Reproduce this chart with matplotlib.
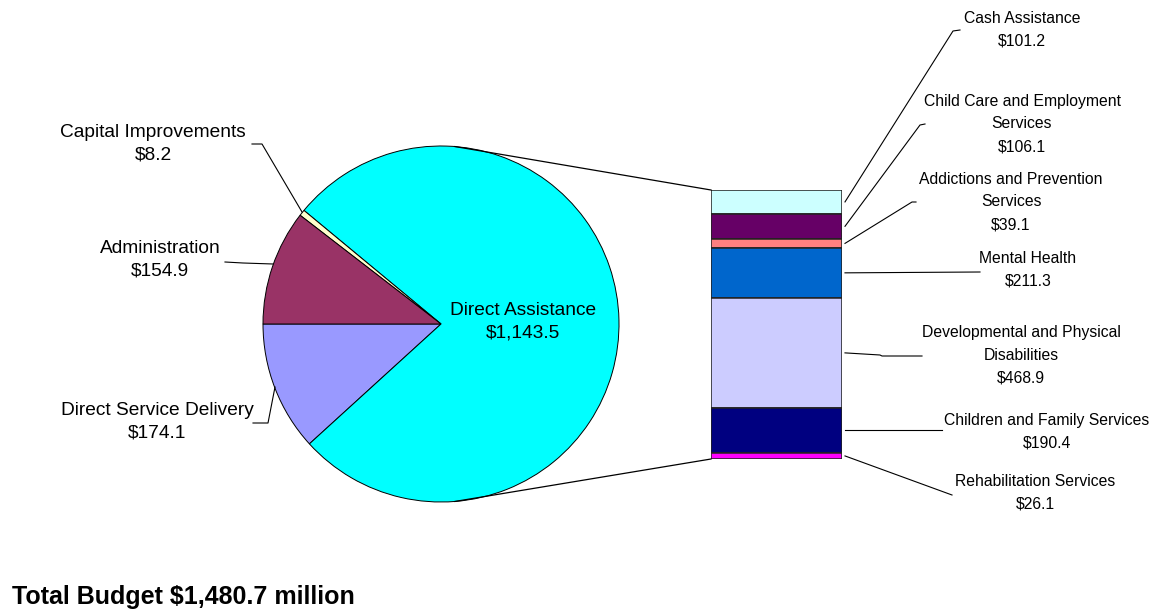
import numpy as np
import matplotlib.pyplot as plt

plt.rcParams['font.family'] = ['Liberation Sans', 'DejaVu Sans']
plt.rcParams['text.parse_math'] = False

# Dados do grafico de pizza (milhoes de dolares)
pizzaNomes = ['Direct Service Delivery', 'Direct Assistance', 'Capital Improvements', 'Administration']
pizzaValores = [174.1, 1143.5, 8.2, 154.9]
pizzaCores = ['#9999FF', '#00FFFF', '#FFFFCC', '#993366']

# Detalhamento de Direct Assistance (de cima para baixo)
barraNomes = ['Cash Assistance', 'Child Care and Employment\nServices', 'Addictions and Prevention\nServices',
              'Mental Health', 'Developmental and Physical\nDisabilities', 'Children and Family Services',
              'Rehabilitation Services']
barraValores = [101.2, 106.1, 39.1, 211.3, 468.9, 190.4, 26.1]
barraCores = ['#CCFFFF', '#660066', '#FF8080', '#0066CC', '#CCCCFF', '#000080', '#FF00FF']

totalBudget = 1480.7

W, H = 1159, 611
fig = plt.figure(figsize=(W / 100, H / 100), dpi=100)


def caixa(x0, y0, w, h):
    # converte caixa em pixels (origem topo-esquerda) para fracao da figura
    return [x0 / W, 1 - (y0 + h) / H, w / W, h / H]


# Pizza
cx, cy, r = 441, 324, 178
axPizza = fig.add_axes(caixa(cx - r, cy - r, 2 * r, 2 * r))
axPizza.pie(pizzaValores, colors=pizzaCores, startangle=180, counterclock=True, radius=1,
            wedgeprops={'edgecolor': 'black', 'linewidth': 0.7})
axPizza.set_xlim(-1, 1)
axPizza.set_ylim(-1, 1)
axPizza.set_aspect('auto')
axPizza.axis('off')

# Barra empilhada
bx, by, bw, bh = 711, 190, 131, 269
axBarra = fig.add_axes(caixa(bx, by, bw, bh))
base = np.concatenate([[0], np.cumsum(barraValores)[:-1]])
axBarra.bar(0, barraValores, bottom=base, width=1, color=barraCores, edgecolor='#222222', linewidth=1.1)
axBarra.set_xlim(-0.5, 0.5)
axBarra.set_ylim(sum(barraValores), 0)
axBarra.axis('off')

# Eixo de anotacoes em pixels
ax = fig.add_axes([0, 0, 1, 1], zorder=5)
ax.set_xlim(0, W)
ax.set_ylim(H, 0)
ax.axis('off')

# linhas ligando a pizza a barra
ang = np.radians(85.5)
ax.plot([cx + r * np.cos(ang), bx], [cy - r * np.sin(ang), by], color='black', lw=0.9)
ax.plot([cx + r * np.cos(ang), bx], [cy + r * np.sin(ang), by + bh], color='black', lw=0.9)

# rotulos da pizza
fontePizza = 13.8
pizzaTextos = {
    'Capital Improvements': ((153, 144), [(252, 144), (262, 144), (302, 212)]),
    'Administration': ((160, 260), [(225, 262), (243, 263), (273, 264)]),
    'Direct Service Delivery': ((157, 422), [(253, 423), (268, 423), (275, 387)]),
    'Direct Assistance': ((523, 322), None),
}
for nome, valor in zip(pizzaNomes, pizzaValores):
    (tx, ty), linha = pizzaTextos[nome]
    ax.text(tx, ty, f"{nome}\n${valor:,.1f}", ha='center', va='center', fontsize=fontePizza,
            linespacing=1.45)
    if linha:
        xs, ys = zip(*linha)
        ax.plot(xs, ys, color='black', lw=0.8)

# rotulos da barra
meio = by + (base + np.array(barraValores) / 2) / sum(barraValores) * bh
barraTextos = [(1022, 30), (1022, 124), (1011, 202), (1028, 270), (1021, 355), (1047, 432), (1035, 493)]
barraLinhas = [[(953, 31), (960, 30)], [(920, 125), (925, 124)], [(912, 202), (916, 202)],
               [(980, 272)], [(880, 355), (882, 356), (922, 356)], [(942, meio[5])], [(952, 495)]]
for nome, valor, (tx, ty), m, linha in zip(barraNomes, barraValores, barraTextos, meio, barraLinhas):
    ax.text(tx, ty, f"{nome}\n${valor:,.1f}", ha='center', va='center', fontsize=11.3, linespacing=1.65)
    pts = [(bx + bw + 3, m)] + linha
    xs, ys = zip(*pts)
    ax.plot(xs, ys, color='black', lw=0.8)

ax.text(12, 597, f"Total Budget ${totalBudget:,.1f} million", ha='left', va='center',
        fontsize=18, fontweight='bold')

fig.savefig('out.png', dpi=100)
